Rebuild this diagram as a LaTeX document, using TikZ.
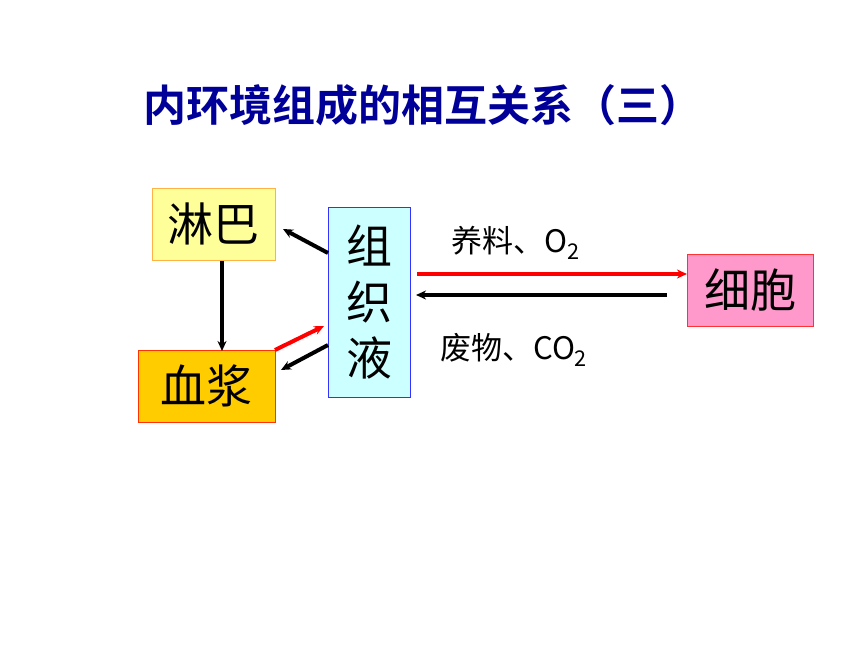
\documentclass[tikz,border=0pt]{standalone}
\usepackage{fontspec}
\setmainfont{Noto Sans CJK SC}
\newfontfamily\cjk{Noto Sans CJK SC}
\newfontfamily\cjkb{Noto Sans CJK SC Bold}
\usetikzlibrary{arrows.meta}
\definecolor{titleblue}{HTML}{000099}
\definecolor{lbfill}{HTML}{FFFF99}
\definecolor{lbdraw}{HTML}{FFB347}
\definecolor{zzfill}{HTML}{CCFFFF}
\definecolor{zzdraw}{HTML}{3333FF}
\definecolor{xjfill}{HTML}{FFCC00}
\definecolor{xjdraw}{HTML}{FF3300}
\definecolor{xbfill}{HTML}{FF99CC}
\definecolor{xbdraw}{HTML}{FF3333}
\definecolor{arrred}{HTML}{FF0000}
\begin{document}
\begin{tikzpicture}[x=1pt,y=-1pt,
  boxa/.style={draw, line width=0.8pt, inner sep=0pt, font=\cjk\fontsize{46}{50}\selectfont},
  conn/.style={line width=4pt, -{Stealth[length=10pt,width=9pt]}},
  lbl/.style={font=\cjk\fontsize{31}{33}\selectfont, inner sep=0pt}]
\useasboundingbox (0,0) rectangle (860,645);
\node[font=\cjkb\fontsize{43}{46}\selectfont, text=titleblue, anchor=west, inner sep=0pt] (title) at (143,105) {内环境组成的相互关系（三）};
\node[boxa, fill=lbfill, draw=lbdraw, minimum width=123pt, minimum height=72pt] (lb) at (213.5,224) {淋巴};
\node[boxa, fill=zzfill, draw=zzdraw, minimum width=82pt, minimum height=190pt, align=center] (zz) at (369,302) {组\\[6pt]织\\[6pt]液};
\node[boxa, fill=xjfill, draw=xjdraw, minimum width=137pt, minimum height=72pt] (xj) at (206.5,386) {血浆};
\node[boxa, fill=xbfill, draw=xbdraw, minimum width=126pt, minimum height=72pt] (xb) at (750,290) {细胞};
\coordinate (lbb) at (222,261);
\coordinate (xjt) at (222,351);
\draw[conn, line width=3.5pt] (lbb) -- (xjt);
\coordinate (zz1) at (328,253);
\coordinate (lb1) at (283,229);
\draw[conn] (zz1) -- (lb1);
\coordinate (xj1) at (275,350);
\coordinate (zz2) at (324,326);
\draw[conn, draw=arrred, fill=arrred] (xj1) -- (zz2);
\coordinate (zz3) at (328,345);
\coordinate (xj2) at (281,370);
\draw[conn] (zz3) -- (xj2);
\coordinate (zzr1) at (417,274);
\coordinate (xbl1) at (687,274);
\draw[conn, draw=arrred, fill=arrred] (zzr1) -- (xbl1);
\coordinate (xbl2) at (667,295);
\coordinate (zzr2) at (416,295);
\draw[conn] (xbl2) -- (zzr2);
\node[lbl, anchor=west] (l1) at (451,243) {养料、O\textsubscript{2}};
\node[lbl, anchor=west] (l2) at (440,350) {废物、CO\textsubscript{2}};
\end{tikzpicture}
\end{document}
